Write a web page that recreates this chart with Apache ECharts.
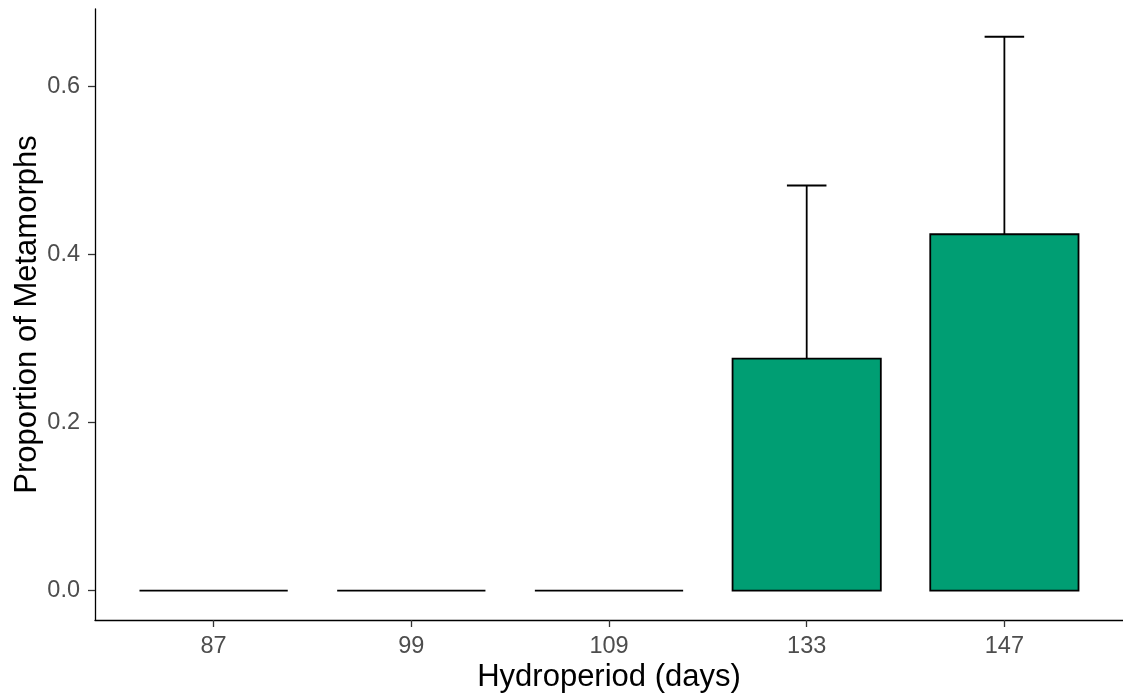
<!DOCTYPE html>
<html><head><meta charset="utf-8">
<script src="https://cdn.jsdelivr.net/npm/echarts@6/dist/echarts.min.js"></script>
<style>html,body{margin:0;padding:0;background:#fff}#c{width:1123px;height:698px}</style>
</head><body><div id="c"></div>
<script>
const categories = ["87", "99", "109", "133", "147"];
const means = [0, 0, 0, 0.276, 0.424];
const upper = [0, 0, 0, 0.482, 0.659];
const yTicks = [0, 0.2, 0.4, 0.6];
const yTickLabels = ["0.0", "0.2", "0.4", "0.6"];

const pos = categories.map((c, i) => i + 1);
const rows = categories.map((c, i) => [pos[i], means[i], upper[i]]);

const chart = echarts.init(document.getElementById('c'), null, {renderer: 'canvas'});
const fontFam = '"Liberation Sans", Arial, sans-serif';
chart.setOption({
  animation: false,
  grid: {left: 95, right: -5, top: 9, bottom: 78, containLabel: false},
  xAxis: {
    type: 'value', min: 0.4, max: 5.6,
    splitLine: {show: false},
    axisLine: {show: true, onZero: false, lineStyle: {color: '#000', width: 1.3}},
    axisTick: {show: true, customValues: pos, length: 7, lineStyle: {color: '#333', width: 1.3}},
    axisLabel: {customValues: pos, formatter: v => categories[Math.round(v) - 1], color: '#4D4D4D', fontSize: 23.5, fontFamily: fontFam, margin: 15},
    name: 'Hydroperiod (days)', nameLocation: 'middle', nameGap: 42, nameMoveOverlap: false,
    nameTextStyle: {color: '#000', fontSize: 31, fontFamily: fontFam}
  },
  yAxis: {
    type: 'value', min: -0.035, max: 0.692,
    splitLine: {show: false},
    axisLine: {show: true, onZero: false, lineStyle: {color: '#000', width: 1.3}},
    axisTick: {show: true, customValues: yTicks, length: 7, lineStyle: {color: '#333', width: 1.3}},
    axisLabel: {customValues: yTicks, formatter: v => yTickLabels[yTicks.findIndex(t => Math.abs(t - v) < 1e-9)], color: '#4D4D4D', fontSize: 23.5, fontFamily: fontFam, margin: 15},
    name: 'Proportion of Metamorphs', nameLocation: 'middle', nameGap: 52, nameMoveOverlap: false,
    nameTextStyle: {color: '#000', fontSize: 31, fontFamily: fontFam}
  },
  series: [{
    type: 'custom',
    data: rows,
    encode: {x: 0, y: [1, 2]},
    renderItem: function (params, api) {
      const x = api.value(0), m = api.value(1), u = api.value(2);
      const p0 = api.coord([x - 0.375, 0]);
      const p1 = api.coord([x + 0.375, m]);
      const pm = api.coord([x, m]);
      const pu = api.coord([x, u]);
      const cl = api.coord([x - 0.1, u]);
      const cr = api.coord([x + 0.1, u]);
      const children = [];
      if (u > m) {
        children.push({type: 'line', shape: {x1: pm[0], y1: pm[1], x2: pu[0], y2: pu[1]}, style: {stroke: '#000', lineWidth: 1.8}});
        children.push({type: 'line', shape: {x1: cl[0], y1: cl[1], x2: cr[0], y2: cr[1]}, style: {stroke: '#000', lineWidth: 1.8}});
      }
      if (m > 0) {
        children.push({type: 'rect', shape: {x: p0[0], y: p1[1], width: p1[0] - p0[0], height: p0[1] - p1[1]}, style: {fill: '#009E73', stroke: '#000', lineWidth: 1.8}});
      } else {
        children.push({type: 'line', shape: {x1: p0[0], y1: p0[1], x2: p1[0], y2: p0[1]}, style: {stroke: '#000', lineWidth: 1.8}});
      }
      return {type: 'group', children: children};
    }
  }]
});
</script></body></html>
